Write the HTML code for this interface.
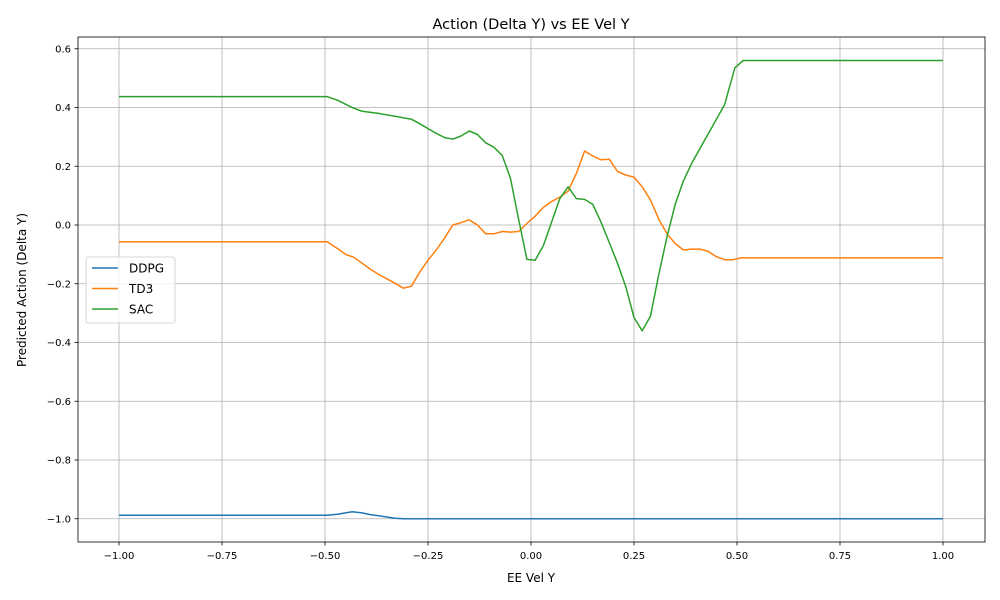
<!DOCTYPE html>
<html><head><meta charset="utf-8"><style>
body{margin:0;background:#fff;font-family:"Liberation Sans",sans-serif}
svg{display:block}
text{font-family:"DejaVu Sans","Liberation Sans",sans-serif;fill:#000}
</style></head><body>
<svg id="c" width="1000" height="600"></svg>
<script>
const xTicks=[-1,-0.75,-0.5,-0.25,0,0.25,0.5,0.75,1];
const xTickLabels=["−1.00","−0.75","−0.50","−0.25","0.00","0.25","0.50","0.75","1.00"];
const yTicks=[0.6,0.4,0.2,0,-0.2,-0.4,-0.6,-0.8,-1.0];
const yTickLabels=["0.6","0.4","0.2","0.0","−0.2","−0.4","−0.6","−0.8","−1.0"];
const seriesNames=["DDPG","TD3","SAC"];
const ddpgX=[-1,-0.495,-0.47,-0.45,-0.434,-0.41,-0.39,-0.37,-0.35,-0.33,-0.31,1];
const ddpgY=[-0.988,-0.988,-0.985,-0.98,-0.976,-0.98,-0.986,-0.99,-0.994,-0.998,-1.0,-1.0];
const td3X=[-1,-0.495,-0.47,-0.45,-0.43,-0.41,-0.39,-0.37,-0.35,-0.33,-0.31,-0.29,-0.27,-0.25,-0.23,-0.21,-0.19,-0.17,-0.15,-0.13,-0.11,-0.09,-0.07,-0.05,-0.03,-0.01,0.01,0.03,0.05,0.07,0.09,0.11,0.13,0.15,0.17,0.19,0.21,0.23,0.25,0.27,0.29,0.31,0.33,0.35,0.37,0.39,0.41,0.43,0.45,0.47,0.49,0.51,1];
const td3Y=[-0.057,-0.057,-0.08,-0.1,-0.11,-0.13,-0.15,-0.168,-0.183,-0.198,-0.215,-0.208,-0.16,-0.12,-0.085,-0.045,0.0,0.008,0.018,0.0,-0.03,-0.03,-0.022,-0.024,-0.022,0.005,0.03,0.06,0.08,0.095,0.115,0.175,0.252,0.235,0.222,0.224,0.182,0.17,0.163,0.13,0.085,0.02,-0.03,-0.063,-0.085,-0.082,-0.082,-0.09,-0.108,-0.118,-0.118,-0.112,-0.112];
const sacX=[-1,-0.495,-0.47,-0.434,-0.41,-0.37,-0.33,-0.29,-0.27,-0.25,-0.23,-0.21,-0.19,-0.17,-0.15,-0.13,-0.11,-0.09,-0.07,-0.05,-0.03,-0.01,0.01,0.03,0.05,0.07,0.09,0.11,0.13,0.15,0.17,0.19,0.21,0.23,0.25,0.27,0.29,0.31,0.33,0.35,0.37,0.39,0.41,0.43,0.45,0.47,0.495,0.515,1];
const sacY=[0.437,0.437,0.425,0.4,0.387,0.38,0.37,0.36,0.345,0.328,0.312,0.298,0.292,0.303,0.32,0.308,0.28,0.265,0.237,0.16,0.02,-0.117,-0.12,-0.07,0.01,0.09,0.13,0.09,0.087,0.07,0.01,-0.06,-0.13,-0.21,-0.315,-0.36,-0.31,-0.17,-0.04,0.07,0.15,0.21,0.26,0.31,0.36,0.41,0.535,0.56,0.56];
const colors=["#1f77b4","#ff7f0e","#2ca02c"];
const NS="http://www.w3.org/2000/svg";
const svg=document.getElementById('c');
const L=78,R=985,T=37,B=542;
function sx(x){return 531+412*x;}
function sy(y){return 225-293.75*y;}
function mk(tag,attrs,parent){const e=document.createElementNS(NS,tag);for(const k in attrs)e.setAttribute(k,attrs[k]);(parent||svg).appendChild(e);return e;}
// grid + ticks
xTicks.forEach((v,i)=>{
  const g=mk('line',{x1:sx(v),x2:sx(v),y1:T,y2:B,stroke:'#b0b0b0','stroke-width':0.8});
  
  
  mk('line',{x1:sx(v),x2:sx(v),y1:B,y2:B+3.5,stroke:'#000','stroke-width':0.8});
  const t=mk('text',{x:sx(v),y:B+17,'text-anchor':'middle','font-size':10});
  t.textContent=xTickLabels[i];
  
  
});
yTicks.forEach((v,i)=>{
  const g=mk('line',{x1:L,x2:R,y1:sy(v),y2:sy(v),stroke:'#b0b0b0','stroke-width':0.8});
  
  
  mk('line',{x1:L-3.5,x2:L,y1:sy(v),y2:sy(v),stroke:'#000','stroke-width':0.8});
  const t=mk('text',{x:L-7,y:sy(v)+3.5,'text-anchor':'end','font-size':10});
  t.textContent=yTickLabels[i];
  
  
});
// series
const sets=[[ddpgX,ddpgY],[td3X,td3Y],[sacX,sacY]];
const names=['ddpg-line','td3-line','sac-line'];
sets.forEach((s,k)=>{
  const d=s[0].map((x,i)=>(i?'L':'M')+sx(x).toFixed(1)+','+sy(s[1][i]).toFixed(1)).join(' ');
  const p=mk('path',{d:d,fill:'none',stroke:colors[k],'stroke-width':1.5,'stroke-linejoin':'round'});
  
  
});
const frame=mk('rect',{x:L,y:T,width:R-L,height:B-T,fill:'none',stroke:'#000','stroke-width':0.8});


// titles
const ti=mk('text',{x:531,y:29,'text-anchor':'middle','font-size':14.5});
ti.textContent='Action (Delta Y) vs EE Vel Y';


const xt=mk('text',{x:531,y:582,'text-anchor':'middle','font-size':12});
xt.textContent='EE Vel Y';


const yt=mk('text',{x:0,y:0,'text-anchor':'middle','font-size':12,transform:'translate(26,290) rotate(-90)'});
yt.textContent='Predicted Action (Delta Y)';


// legend
const lg=mk('g',{});


mk('rect',{x:86,y:257,width:89,height:66,rx:2,fill:'#fff','fill-opacity':0.8,stroke:'#ccc','stroke-width':0.8},lg);
seriesNames.forEach((n,k)=>{
  const y=268+k*20.5;
  const ln=mk('line',{x1:92,x2:118,y1:y,y2:y,stroke:colors[k],'stroke-width':1.5},lg);
  
  
  const t=mk('text',{x:129,y:y+4.5,'font-size':12},lg);
  t.textContent=n;
  
  
});
</script>
</body></html>
